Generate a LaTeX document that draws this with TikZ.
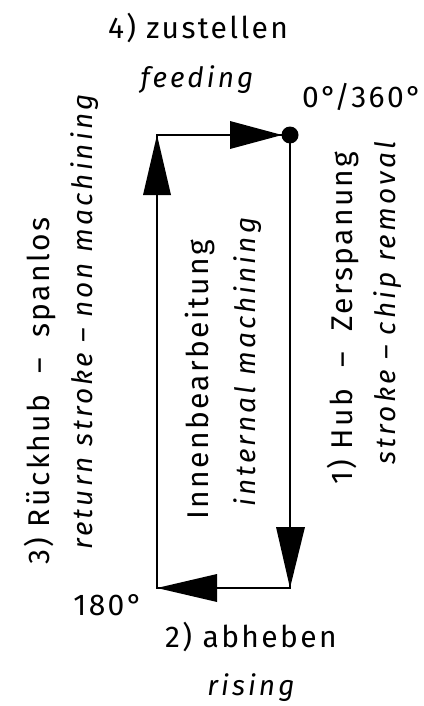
\documentclass[tikz,border=0pt]{standalone}
\usepackage{fontspec}
\setmainfont{Fira Sans}
\newfontfamily\bigfam[LetterSpace=8]{Fira Sans}
\newfontfamily\smallfam[LetterSpace=11]{Fira Sans}
\begin{document}
\begin{tikzpicture}[x=1pt,y=-1pt,
  big/.style={inner sep=0pt, font=\bigfam\fontsize{30}{36}\selectfont},
  small/.style={inner sep=0pt, font=\smallfam\fontsize{28}{33}\selectfont\itshape}]
\useasboundingbox (0,0) rectangle (423,706);
\coordinate (TL) at (157,135);
\coordinate (TR) at (290,135);
\coordinate (BR) at (290,588);
\coordinate (BL) at (157,588);
\draw[line width=2.6pt, line join=miter] (TL) -- (TR) -- (BR) -- (BL) -- cycle;
\fill (TR) circle (8.5);
% arrowheads
\fill ([xshift=-8pt]TR) -- ([xshift=-60pt,yshift=-14pt]TR) -- ([xshift=-60pt,yshift=14pt]TR) -- cycle;
\fill (BR) -- ([xshift=-14pt,yshift=61pt]BR) -- ([xshift=15pt,yshift=61pt]BR) -- cycle;
\fill (BL) -- ([xshift=60pt,yshift=-14pt]BL) -- ([xshift=60pt,yshift=14pt]BL) -- cycle;
\fill (TL) -- ([xshift=-14pt,yshift=-60pt]TL) -- ([xshift=14pt,yshift=-60pt]TL) -- cycle;
% texts
\node[big] (t4) at (198,28) {4)\ zustellen};
\node[small] (f4) at (197,80) {feeding};
\node[big] (t0) at (362,97) {0°/360°};
\node[big] (t180) at (108,605) {180°};
\node[big] (t2) at (251,637) {2)\ abheben};
\node[small] (f2) at (251,688) {rising};
\node[big, rotate=90] (t3) at (40,391) {3)\ Rückhub\ \ –\ \ spanlos};
\node[small, rotate=90] (f3) at (85,322) {return stroke – non machining};
\node[big, rotate=90] (t1) at (343,318) {1)\ Hub\ \ –\ \ Zerspanung};
\node[small, rotate=90] (f1) at (388,303) {stroke – chip removal};
\node[big, rotate=90] (ti) at (200,380) {Innenbearbeitung};
\node[small, rotate=90] (fi) at (248,362) {internal machining};
\end{tikzpicture}
\end{document}
